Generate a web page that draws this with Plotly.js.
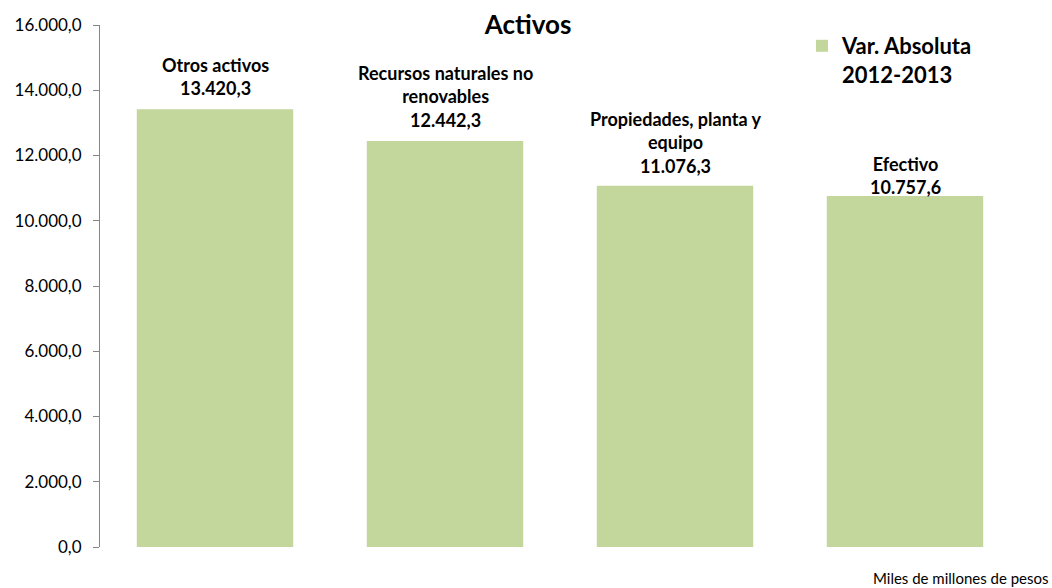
<!DOCTYPE html>
<html>
<head>
<meta charset="utf-8">
<script src="https://cdn.plot.ly/plotly-3.0.1.min.js"></script>
<style>html,body{margin:0;padding:0;background:#fff;}#chart{width:1052px;height:588px;}</style>
</head>
<body>
<div id="chart"></div>
<script>
// Data
var categories = ["Otros activos", "Recursos naturales no renovables", "Propiedades, planta y equipo", "Efectivo"];
var labelLines = ["Otros activos", "Recursos naturales no<br>renovables", "Propiedades, planta y<br>equipo", "Efectivo"];
var values = [13420.3, 12442.3, 11076.3, 10757.6];
var seriesName = "Var. Absoluta<br>2012-2013";
var yTicks = [0, 2000, 4000, 6000, 8000, 10000, 12000, 14000, 16000];

function fmtNum(v) {
  var parts = v.toFixed(1).split(".");
  var intPart = parts[0].replace(/\B(?=(\d{3})+(?!\d))/g, ".");
  return intPart + "," + parts[1];
}

var FONT = "Lato, 'Open Sans', sans-serif";
// label offsets in pixels (style only)
var labelYShift = [8, 8, 7, -4];

var trace = {
  type: "bar",
  x: categories,
  y: values,
  name: "<b>" + seriesName + "</b>",
  marker: {color: "#C3D69B"},
  hoverinfo: "skip"
};

var annotations = categories.map(function (c, i) {
  return {
    x: c, y: values[i], xref: "x", yref: "y",
    text: "<b>" + labelLines[i] + "<br>" + fmtNum(values[i]) + "</b>",
    showarrow: false, xanchor: "center", yanchor: "bottom", yshift: labelYShift[i],
    font: {family: FONT, size: 18, color: "#000"}
  };
});
annotations.push({
  text: "Miles de millones de pesos", xref: "paper", yref: "paper", x: 1.034, y: -0.06,
  xanchor: "right", yanchor: "middle", showarrow: false, font: {family: FONT, size: 15, color: "#000"}
});

var layout = {
  width: 1052, height: 588,
  separators: ",.",
  margin: {l: 100, r: 32, t: 25, b: 41},
  paper_bgcolor: "#fff", plot_bgcolor: "#fff",
  font: {family: FONT, color: "#000"},
  title: {text: "<b>Activos</b>", font: {family: FONT, size: 26, color: "#000"}, x: 0.502, xanchor: "center", y: 0.957, yanchor: "middle"},
  bargap: 0.32,
  showlegend: true,
  legend: {x: 0.763, y: 1.0, xanchor: "left", yanchor: "top", valign: "top",
           font: {family: FONT, size: 22, color: "#000"}, bgcolor: "rgba(0,0,0,0)"},
  xaxis: {showticklabels: false, showline: false, ticks: "", showgrid: false, zeroline: false},
  yaxis: {range: [0, 16000], tickvals: yTicks, tickformat: ",.1f", showgrid: false, zeroline: false,
          showline: true, linecolor: "#868686", linewidth: 1, ticks: "outside", ticklen: 6, tickcolor: "#868686",
          ticklabelstandoff: 8,
          tickfont: {family: FONT, size: 17, color: "#000"}},
  annotations: annotations
};

Plotly.newPlot("chart", [trace], layout, {displayModeBar: false, staticPlot: true});
</script>
</body>
</html>
